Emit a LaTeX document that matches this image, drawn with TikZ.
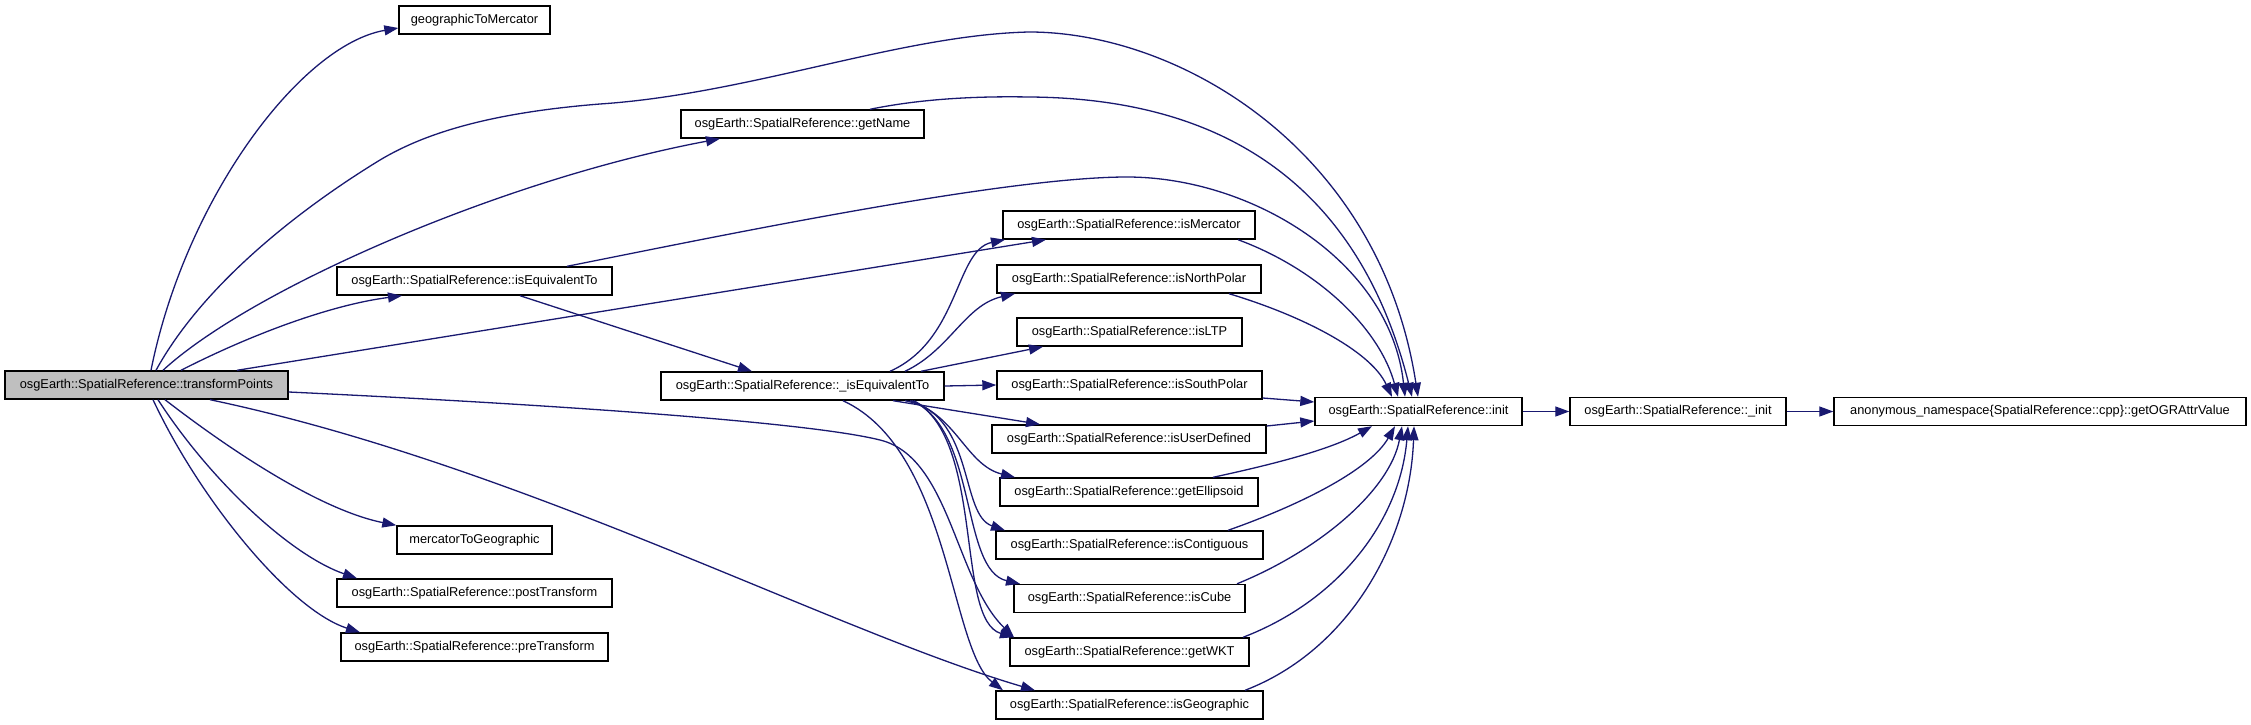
\documentclass[tikz,border=0pt]{standalone}
\usepackage{fontspec}
\setmainfont{Liberation Sans}
\usetikzlibrary{arrows.meta}
\definecolor{edgecol}{HTML}{191970}
\definecolor{rootfill}{HTML}{BFBFBF}
\begin{document}
\begin{tikzpicture}[x=1pt,y=-1pt,
  fn/.style={draw=black, line width=1.4pt, minimum height=28pt, inner sep=0pt, fill=white, font=\fontsize{12.8}{15}\selectfont},
  call/.style={draw=edgecol, line width=1.3pt, -{Triangle[length=14pt,width=10pt]}}]
\fill[white] (0,0) rectangle (2251,725);
\useasboundingbox (0,0) rectangle (2251,725);
% nodes
\node[fn, fill=rootfill, minimum width=283pt] (tp) at (146.5,385) {osgEarth::SpatialReference::transformPoints};
\node[fn, minimum width=151pt] (gtm) at (474.5,20) {geographicToMercator};
\node[fn, minimum width=243pt] (gname) at (802.5,124) {osgEarth::SpatialReference::getName};
\node[fn, minimum width=275pt] (ieq) at (474.5,281) {osgEarth::SpatialReference::isEquivalentTo};
\node[fn, minimum width=155pt] (mtg) at (474.5,540) {mercatorToGeographic};
\node[fn, minimum width=275pt] (post) at (474.5,593) {osgEarth::SpatialReference::postTransform};
\node[fn, minimum width=267pt] (pre) at (474.5,647) {osgEarth::SpatialReference::preTransform};
\node[fn, minimum width=283pt] (pieq) at (802.5,386) {osgEarth::SpatialReference::\_isEquivalentTo};
\node[fn, minimum width=252pt] (merc) at (1129,225) {osgEarth::SpatialReference::isMercator};
\node[fn, minimum width=264pt] (npol) at (1129,279) {osgEarth::SpatialReference::isNorthPolar};
\node[fn, minimum width=225pt] (ltp) at (1129.5,332) {osgEarth::SpatialReference::isLTP};
\node[fn, minimum width=265pt] (spol) at (1129.5,385) {osgEarth::SpatialReference::isSouthPolar};
\node[fn, minimum width=274pt] (udef) at (1129,439) {osgEarth::SpatialReference::isUserDefined};
\node[fn, minimum width=258pt] (ell) at (1129,492) {osgEarth::SpatialReference::getEllipsoid};
\node[fn, minimum width=267pt] (contig) at (1129.5,545) {osgEarth::SpatialReference::isContiguous};
\node[fn, minimum width=231pt] (cube) at (1129.5,598.5) {osgEarth::SpatialReference::isCube};
\node[fn, minimum width=239pt] (wkt) at (1129.5,652) {osgEarth::SpatialReference::getWKT};
\node[fn, minimum width=267pt] (geo) at (1129.5,705) {osgEarth::SpatialReference::isGeographic};
\node[fn, minimum width=207pt] (init) at (1418.5,411.5) {osgEarth::SpatialReference::init};
\node[fn, minimum width=216pt] (pinit) at (1678,411.5) {osgEarth::SpatialReference::\_init};
\node[fn, minimum width=412pt] (ogr) at (2040,411.5) {anonymous\_namespace\{SpatialReference::cpp\}::getOGRAttrValue};
% edges from transformPoints
\draw[call] (tp.north -| 151,0) .. controls (185,200) and (300,45) .. (gtm.west |- 0,28);
\draw[call] (tp.north -| 156,0) .. controls (200,290) and (290,215) .. (380,160) .. controls (430,130) and (500,112) .. (600,104) .. controls (750,94) and (900,35) .. (1029,32) .. controls (1180,32) and (1380,150) .. (init.north -| 1418,0);
\draw[call] (tp.north -| 163,0) .. controls (250,290) and (500,180) .. (gname.south -| 720,0);
\draw[call] (tp.north -| 181,0) .. controls (250,335) and (330,305) .. (ieq.south -| 402,0);
\draw[call] (tp.north -| 237,0) -- (merc.south -| 1046,0);
\draw[call] (tp.east |- 0,392) .. controls (500,402) and (800,420) .. (880,440) .. controls (950,457) and (955,580) .. (wkt.north -| 1014,0);
\draw[call] (tp.south -| 210,0) .. controls (520,465) and (830,630) .. (geo.north -| 1035,0);
\draw[call] (tp.south -| 165,0) .. controls (230,450) and (320,510) .. (mtg.north west);
\draw[call] (tp.south -| 158,0) .. controls (210,480) and (290,555) .. (post.north -| 357,0);
\draw[call] (tp.south -| 153,0) .. controls (200,500) and (290,610) .. (pre.north -| 360,0);
% getName, isEquivalentTo
\draw[call] (gname.north -| 870,0) .. controls (920,99) and (975,96) .. (1029,97) .. controls (1180,98) and (1350,150) .. (init.north -| 1412,0);
\draw[call] (ieq.north -| 567,0) .. controls (700,240) and (1000,177) .. (1127,177) .. controls (1250,177) and (1390,260) .. (init.north -| 1405,0);
\draw[call] (ieq.south -| 520,0) -- (pieq.north -| 752,0);
% _isEquivalentTo
\draw[call] (pieq.north -| 890,0) .. controls (960,340) and (955,250) .. (merc.south -| 1005,0);
\draw[call] (pieq.north -| 905,0) .. controls (950,350) and (965,305) .. (npol.south -| 1015,0);
\draw[call] (pieq.north -| 921,0) -- (ltp.south -| 1043,0);
\draw[call] (pieq.east) -- (spol.west);
\draw[call] (pieq.south -| 893,0) -- (udef.north -| 1040,0);
\draw[call] (pieq.south -| 905,0) .. controls (955,410) and (965,465) .. (ell.north -| 1015,0);
\draw[call] (pieq.south -| 910,0) .. controls (975,420) and (960,515) .. (contig.north -| 1005,0);
\draw[call] (pieq.south -| 912,0) .. controls (978,430) and (960,570) .. (cube.north -| 1020,0);
\draw[call] (pieq.south -| 914,0) .. controls (985,440) and (955,620) .. (wkt.north -| 1014,0);
\draw[call] (pieq.south -| 843,0) .. controls (950,450) and (950,650) .. (geo.north -| 1003,0);
% right column into init
\draw[call] (merc.south -| 1238,0) .. controls (1320,270) and (1380,330) .. (init.north -| 1398,0);
\draw[call] (npol.south -| 1229,0) .. controls (1300,315) and (1370,350) .. (init.north -| 1392,0);
\draw[call] (spol.east |- 0,398) -- (init.west |- 0,402);
\draw[call] (udef.east |- 0,426) -- (init.west |- 0,421);
\draw[call] (ell.north -| 1213,0) .. controls (1270,465) and (1330,450) .. (init.south -| 1372,0);
\draw[call] (contig.north -| 1228,0) .. controls (1300,505) and (1370,470) .. (init.south -| 1395,0);
\draw[call] (cube.north -| 1237,0) .. controls (1320,550) and (1390,490) .. (init.south -| 1402,0);
\draw[call] (wkt.north -| 1243,0) .. controls (1340,600) and (1400,520) .. (init.south -| 1408,0);
\draw[call] (geo.north -| 1245,0) .. controls (1350,650) and (1410,540) .. (init.south -| 1414,0);
% chain
\draw[call] (init) -- (pinit);
\draw[call] (pinit) -- (ogr);
\end{tikzpicture}
\end{document}
